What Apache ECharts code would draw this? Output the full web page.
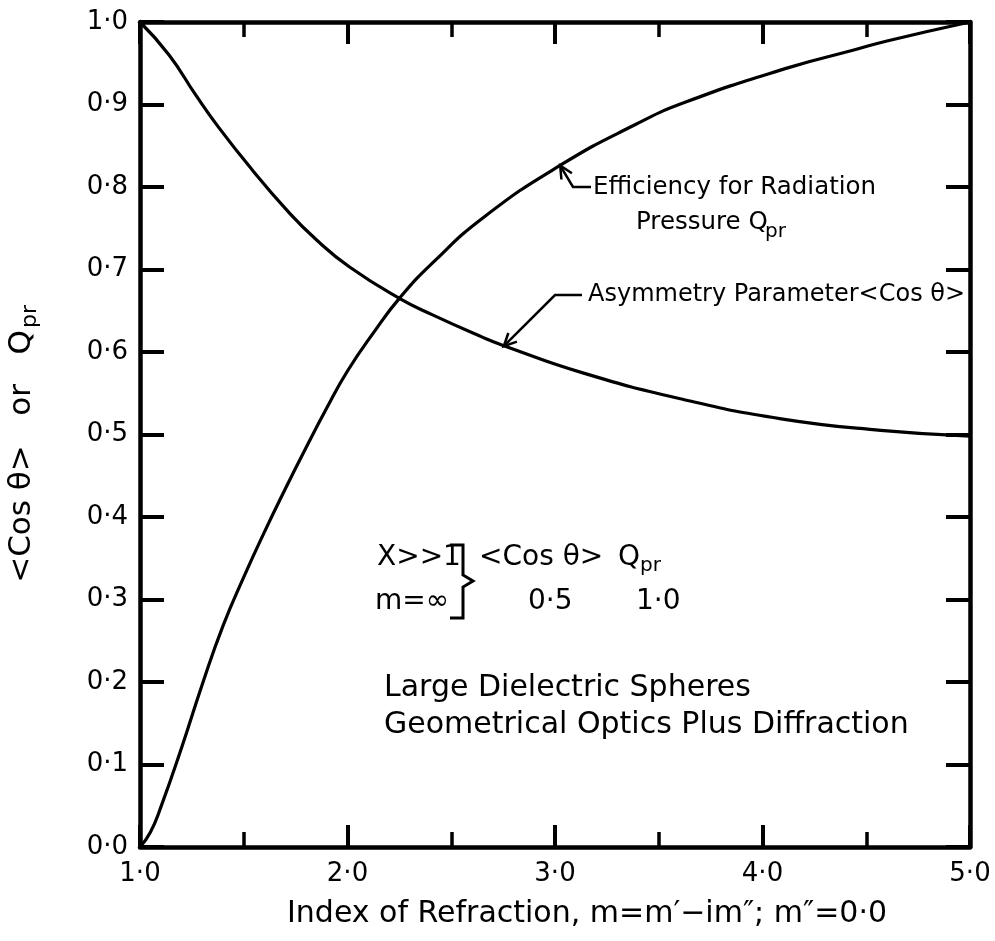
<!DOCTYPE html>
<html><head><meta charset="utf-8">
<script src="https://cdn.jsdelivr.net/npm/echarts@6/dist/echarts.min.js"></script>
<style>html,body{margin:0;padding:0;background:#fff}#c{width:995px;height:941px}</style>
</head><body><div id="c"></div>
<script>
// ---- data ----
const xTickLabels = ['1·0', '2·0', '3·0', '4·0', '5·0'];
const yTickLabels = ['0·0', '0·1', '0·2', '0·3', '0·4', '0·5', '0·6', '0·7', '0·8', '0·9', '1·0'];

// Asymmetry parameter <cos θ>
const asymX = [1.0, 1.14, 1.27, 1.38, 1.54, 1.70, 1.85, 2.01, 2.25, 2.41, 2.65, 2.75, 3.13, 3.61, 4.09, 4.57, 5.0];
const asymY = [1.0, 0.960, 0.911, 0.872, 0.821, 0.774, 0.736, 0.703, 0.665, 0.645, 0.618, 0.608, 0.575, 0.543, 0.519, 0.505, 0.498];

// Efficiency for radiation pressure Qpr
const qprX = [1.0, 1.05, 1.1, 1.2, 1.3, 1.4, 1.5, 1.6, 1.7, 1.8, 1.9, 2.0, 2.13, 2.25, 2.41, 2.66, 3.03, 3.39, 3.63, 4.13, 4.44, 4.60, 5.0];
const qprY = [0.0, 0.018, 0.048, 0.120, 0.197, 0.268, 0.327, 0.382, 0.434, 0.484, 0.532, 0.577, 0.625, 0.665, 0.708, 0.764, 0.827, 0.876, 0.903, 0.945, 0.966, 0.977, 1.0];

// annotation anchor points on the curves (data coords)
const qprArrowTip = [3.025, 0.826];
const asymArrowTip = [2.753, 0.607];

const FONT = '"DejaVu Sans", sans-serif';
const chart = echarts.init(document.getElementById('c'), null, {renderer: 'canvas'});

const lineAxis = {show: true, onZero: false, lineStyle: {color: '#000', width: 4.5}};
function xAx(pos, labels) {
  return {
    type: 'value', position: pos, min: 1, max: 5, interval: 1,
    axisLine: lineAxis,
    axisTick: {show: true, inside: true, length: 22, lineStyle: {color: '#000', width: 4}},
    minorTick: {show: true, splitNumber: 2, length: 15, lineStyle: {color: '#000', width: 3.5}},
    splitLine: {show: false}, minorSplitLine: {show: false},
    axisLabel: {show: labels, margin: 14, color: '#000', fontSize: 26, fontFamily: FONT,
      formatter: v => xTickLabels[Math.round(v - 1)]},
    name: labels ? 'Index of Refraction, m=m′−im″; m″=0·0' : '',
    nameLocation: 'middle', nameGap: 52,
    nameTextStyle: {color: '#000', fontSize: 30, fontFamily: FONT, padding: [0, 0, 0, 64]}
  };
}
function yAx(pos, labels) {
  return {
    type: 'value', position: pos, min: 0, max: 1, interval: 0.1,
    axisLine: lineAxis,
    axisTick: {show: true, inside: true, length: 24, lineStyle: {color: '#000', width: 4}},
    splitLine: {show: false},
    axisLabel: {show: labels, margin: 12, color: '#000', fontSize: 26, fontFamily: FONT,
      formatter: v => yTickLabels[Math.round(v * 10)]}
  };
}

chart.setOption({
  animation: false,
  backgroundColor: '#fff',
  grid: {left: 140, right: 25, top: 22, bottom: 94, containLabel: false},
  xAxis: [xAx('bottom', true), xAx('top', false)],
  yAxis: [yAx('left', true), yAx('right', false)],
  series: [
    {type: 'line', name: 'Asymmetry Parameter', xAxisIndex: 0, yAxisIndex: 0,
      data: asymX.map((x, i) => [x, asymY[i]]), showSymbol: false, smooth: 0.5,
      lineStyle: {color: '#000', width: 3.2}},
    {type: 'line', name: 'Qpr', xAxisIndex: 0, yAxisIndex: 0,
      data: qprX.map((x, i) => [x, qprY[i]]), showSymbol: false, smooth: 0.5,
      lineStyle: {color: '#000', width: 3.2}}
  ]
});

const px = p => chart.convertToPixel({xAxisIndex: 0, yAxisIndex: 0}, p);
function txt(text, x, y, size, extra) {
  return Object.assign({type: 'text', style: {text: text, x: x, y: y, fill: '#000',
    font: size + 'px ' + FONT, align: 'left', verticalAlign: 'middle'}}, extra || {});
}
function poly(points, w) {
  return {type: 'polyline', shape: {points: points}, style: {stroke: '#000', lineWidth: w || 2.5, fill: null}};
}
function arrowHead(tip, from, len) {
  const dx = from[0] - tip[0], dy = from[1] - tip[1];
  const d = Math.hypot(dx, dy), ux = dx / d, uy = dy / d;
  const a = 0.45;
  const p1 = [tip[0] + len * (ux * Math.cos(a) - uy * Math.sin(a)), tip[1] + len * (ux * Math.sin(a) + uy * Math.cos(a))];
  const p2 = [tip[0] + len * (ux * Math.cos(-a) - uy * Math.sin(-a)), tip[1] + len * (ux * Math.sin(-a) + uy * Math.cos(-a))];
  return poly([p1, tip, p2]);
}

const qTip = px(qprArrowTip);
const aTip = px(asymArrowTip);
const effBend = [573, 187];
const asymBend = [555, 295];

const g = [];
// Efficiency annotation
g.push(txt('Efficiency for Radiation', 593, 188, 24.5));
g.push(txt('Pressure Q', 636, 223, 24.5));
g.push(txt('pr', 765, 232, 20));
g.push(poly([[591, 187], effBend, qTip]));
g.push(arrowHead(qTip, effBend, 14));
// Asymmetry annotation
g.push(txt('Asymmetry Parameter<Cos θ>', 588, 295, 24));
g.push(poly([[582, 295], asymBend, aTip]));
g.push(arrowHead(aTip, asymBend, 14));
// Box annotation
g.push(txt('X>>1', 377, 558, 28));
g.push(txt('m=∞', 375, 602, 28));
g.push(poly([[450, 545], [463, 545], [463, 575], [473, 581], [463, 587], [463, 618], [450, 618]], 3));
g.push(txt('<Cos θ>', 479, 558, 28));
g.push(txt('Q', 618, 558, 28));
g.push(txt('pr', 640, 566, 20));
g.push(txt('0·5', 528, 602, 28));
g.push(txt('1·0', 636, 602, 28));
g.push(txt('Large Dielectric Spheres', 384, 688, 30));
g.push(txt('Geometrical Optics Plus Diffraction', 384, 725, 30));
// Y axis title (rotated)
g.push({type: 'group', x: 22, y: 442, rotation: Math.PI / 2, children: [
  {type: 'text', style: {text: '<Cos θ>   or   Q', x: 112, y: 0, fill: '#000', font: '31px ' + FONT, align: 'right', verticalAlign: 'middle'}},
  {type: 'text', style: {text: 'pr', x: 114, y: 8, fill: '#000', font: '22px ' + FONT, align: 'left', verticalAlign: 'middle'}}
]});

chart.setOption({graphic: g});
</script>
</body></html>
